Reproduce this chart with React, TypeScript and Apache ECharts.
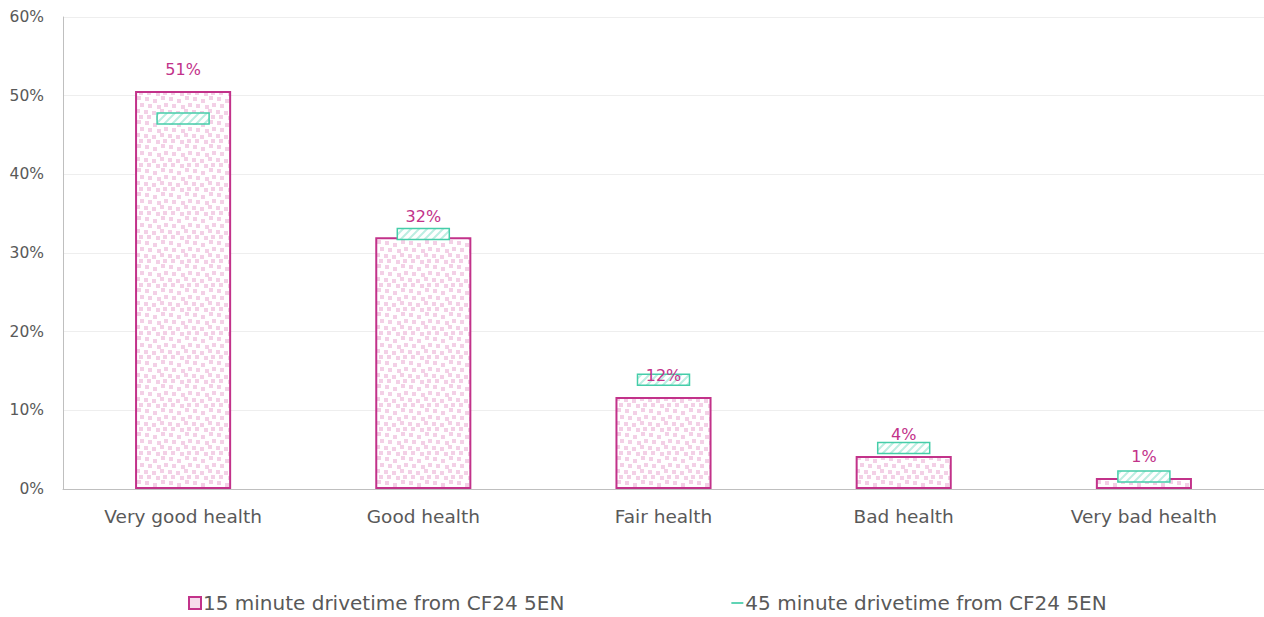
import React, { useEffect, useRef } from "react";
import * as echarts from "echarts";

const categories = ["Very good health", "Good health", "Fair health", "Bad health", "Very bad health"];
const drive15 = [50.6, 32.0, 11.7, 4.2, 1.4];
const drive45 = [47.1, 32.4, 13.9, 5.2, 1.6];
const seriesNames = ["15 minute drivetime from CF24 5EN", "45 minute drivetime from CF24 5EN"];
const yTicks = [0, 10, 20, 30, 40, 50, 60];

const FONT = "'DejaVu Sans', sans-serif";
const MAGENTA = "#c2328a";
const TEAL = "#45cda9";

function dotTile(): string {
  const c = document.createElement("canvas");
  c.width = 24;
  c.height = 24;
  const g = c.getContext("2d")!;
  g.fillStyle = "#ffffff";
  g.fillRect(0, 0, 24, 24);
  g.fillStyle = "#f3d0e6";
  const sq = [
    [1, 1], [9, 3], [17, 0], [4, 8], [13, 9], [20, 7],
    [0, 14], [8, 15], [16, 13], [3, 19], [12, 20], [19, 19],
  ];
  sq.forEach(([x, y]) => g.fillRect(x, y, 4, 4));
  return c.toDataURL();
}

function hatchTile(): string {
  const c = document.createElement("canvas");
  c.width = 8;
  c.height = 8;
  const g = c.getContext("2d")!;
  g.fillStyle = "#ffffff";
  g.fillRect(0, 0, 8, 8);
  g.strokeStyle = "#bdeee2";
  g.lineWidth = 2;
  g.beginPath();
  g.moveTo(-2, 10);
  g.lineTo(10, -2);
  g.moveTo(-6, 6);
  g.lineTo(6, -6);
  g.moveTo(2, 14);
  g.lineTo(14, 2);
  g.stroke();
  return c.toDataURL();
}

export default function App() {
  const ref = useRef<HTMLDivElement>(null);
  useEffect(() => {
    if (!ref.current) return;
    const chart = echarts.init(ref.current, undefined, { renderer: "svg" });
    const dotPattern: any = { image: dotTile(), repeat: "repeat" };
    const hatchPattern: any = { image: hatchTile(), repeat: "repeat" };
    chart.setOption({
      animation: false,
      textStyle: { fontFamily: FONT },
      grid: { left: 63, right: 0, top: 17, bottom: 128, containLabel: false },
      legend: {
        top: 588,
        left: 183,
        itemGap: 167,
        itemWidth: 12,
        itemHeight: 12,
        textStyle: { fontSize: 20, color: "#595959", fontFamily: FONT, padding: [0, 0, 0, -3] },
        data: [
          { name: seriesNames[0], icon: "rect", itemStyle: { color: "#f6dcec", borderColor: MAGENTA, borderWidth: 2 } },
          { name: seriesNames[1], icon: "path://M0,5H14V7H0Z", itemStyle: { color: TEAL, borderWidth: 0 } },
        ],
      },
      xAxis: {
        type: "category",
        data: categories,
        axisLine: { lineStyle: { color: "#bfbfbf", width: 1 } },
        axisTick: { show: false },
        axisLabel: { fontSize: 18.5, color: "#595959", margin: 18, fontFamily: FONT },
      },
      yAxis: {
        type: "value",
        min: 0,
        max: 60,
        interval: 10,
        axisLine: { show: true, lineStyle: { color: "#bfbfbf" } },
        axisTick: { show: false },
        splitLine: { lineStyle: { color: "#eeeeee" } },
        axisLabel: {
          fontSize: 15.5,
          color: "#595959",
          margin: 19,
          fontFamily: FONT,
          formatter: (v: number) => (yTicks.includes(v) ? v + "%" : ""),
        },
      },
      series: [
        {
          name: seriesNames[0],
          type: "bar",
          data: drive15,
          barWidth: "40%",
          itemStyle: { color: dotPattern, borderColor: MAGENTA, borderWidth: 2 },
          z: 2,
        },
        {
          name: seriesNames[1],
          type: "custom",
          data: drive45.map((v, i) => [i, v]),
          renderItem: (params: any, api: any) => {
            const p = api.coord([api.value(0), api.value(1)]);
            const w = 52;
            const h = 11;
            return {
              type: "rect",
              shape: { x: p[0] - w / 2, y: p[1] - h / 2, width: w, height: h },
              style: { fill: hatchPattern, stroke: TEAL, lineWidth: 1.5 },
            };
          },
          z: 3,
        },
        {
          name: "labels",
          type: "bar",
          data: drive15,
          barWidth: "40%",
          barGap: "-100%",
          itemStyle: { color: "rgba(0,0,0,0)", borderWidth: 0 },
          silent: true,
          label: {
            show: true,
            position: "top",
            distance: 13,
            fontSize: 16,
            color: MAGENTA,
            fontFamily: FONT,
            formatter: (p: any) => Math.round(p.value) + "%",
          },
          z: 5,
        },
      ],
    });
    return () => chart.dispose();
  }, []);
  return (
    <div
      ref={ref}
      style={{ position: "absolute", left: 0, top: 0, width: 1264, height: 617 }}
    />
  );
}
